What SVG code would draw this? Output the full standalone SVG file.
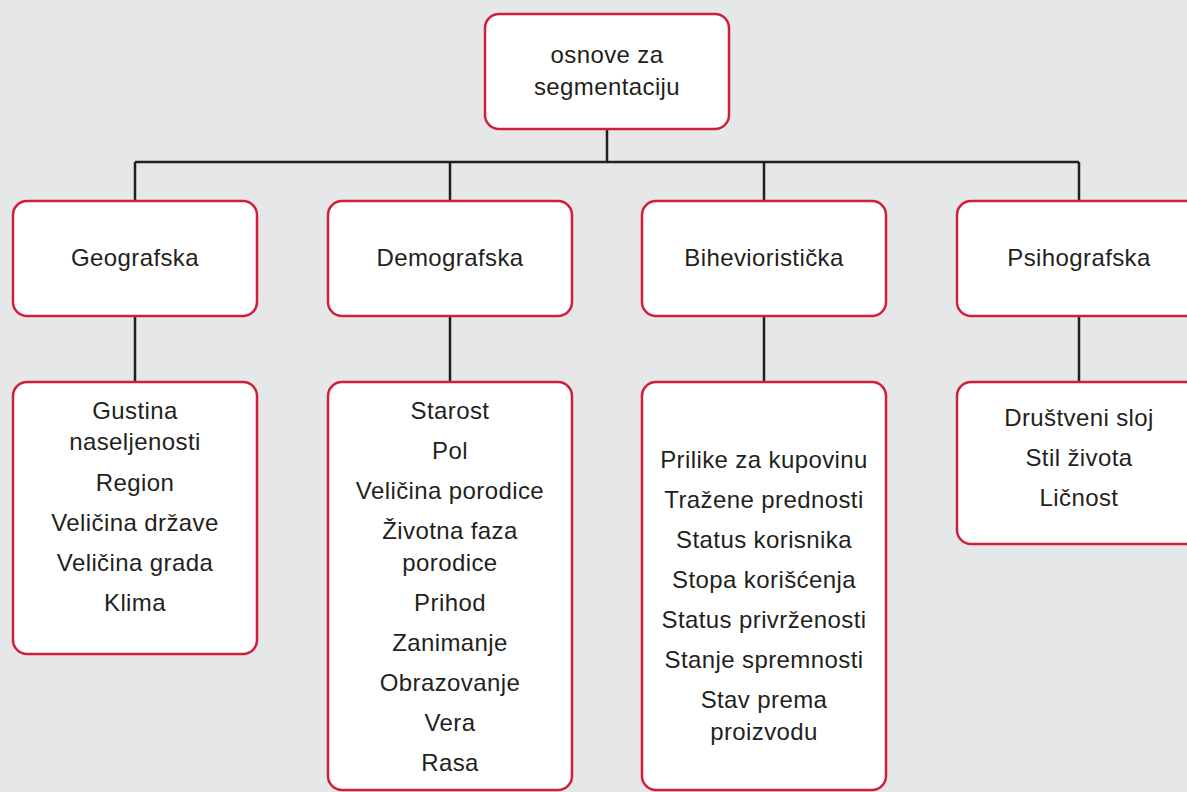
<svg xmlns="http://www.w3.org/2000/svg" width="1187" height="792" viewBox="0 0 1187 792">
<style>
.bx{fill:#fff;stroke:#d11f3a;stroke-width:2.5}
.ln{stroke:#231f20;stroke-width:2.5;fill:none}
text{font-family:"Liberation Sans",Arial,sans-serif;font-size:24px;letter-spacing:0.4px;fill:#231f20;text-anchor:middle}
</style>
<rect width="1187" height="792" fill="#e6e7e8"/>
<g id="connectors">
<path class="ln" d="M607 129V162M135 162H1079M135 162V201M450 162V201M764 162V201M1079 162V201M135 316V382M450 316V382M764 316V382M1079 316V382"/>
</g>
<g id="root"><rect class="bx" x="485" y="14" width="244" height="115" rx="14"/><text x="607" y="63">osnove za</text><text x="607" y="95">segmentaciju</text></g>
<g id="geo"><rect class="bx" x="13" y="201" width="244" height="115" rx="14"/><text x="135" y="266">Geografska</text></g>
<g id="demo"><rect class="bx" x="328" y="201" width="244" height="115" rx="14"/><text x="450" y="266">Demografska</text></g>
<g id="bih"><rect class="bx" x="642" y="201" width="244" height="115" rx="14"/><text x="764" y="266">Bihevioristička</text></g>
<g id="psi"><rect class="bx" x="957" y="201" width="260" height="115" rx="14"/><text x="1079" y="266">Psihografska</text></g>
<g id="geo-list"><rect class="bx" x="13" y="382" width="244" height="272" rx="14"/>
<text x="135" y="419">Gustina</text><text x="135" y="450">naseljenosti</text><text x="135" y="491">Region</text><text x="135" y="531">Veličina države</text><text x="135" y="571">Veličina grada</text><text x="135" y="611">Klima</text></g>
<g id="demo-list"><rect class="bx" x="328" y="382" width="244" height="408" rx="14"/>
<text x="450" y="419">Starost</text><text x="450" y="459">Pol</text><text x="450" y="499">Veličina porodice</text><text x="450" y="539">Životna faza</text><text x="450" y="571">porodice</text><text x="450" y="611">Prihod</text><text x="450" y="651">Zanimanje</text><text x="450" y="691">Obrazovanje</text><text x="450" y="731">Vera</text><text x="450" y="771">Rasa</text></g>
<g id="bih-list"><rect class="bx" x="642" y="382" width="244" height="408" rx="14"/>
<text x="764" y="468">Prilike za kupovinu</text><text x="764" y="508">Tražene prednosti</text><text x="764" y="548">Status korisnika</text><text x="764" y="588">Stopa korišćenja</text><text x="764" y="628">Status privrženosti</text><text x="764" y="668">Stanje spremnosti</text><text x="764" y="708">Stav prema</text><text x="764" y="740">proizvodu</text></g>
<g id="psi-list"><rect class="bx" x="957" y="382" width="260" height="162" rx="14"/>
<text x="1079" y="426">Društveni sloj</text><text x="1079" y="466">Stil života</text><text x="1079" y="506">Ličnost</text></g>
</svg>
